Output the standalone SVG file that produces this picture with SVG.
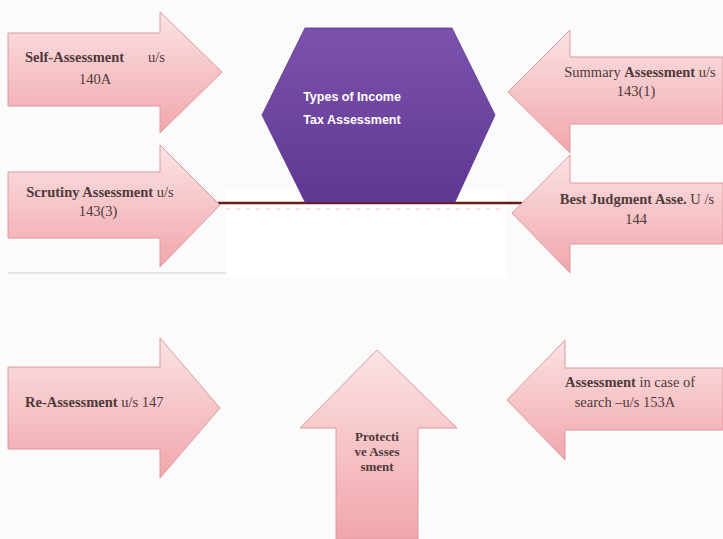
<svg xmlns="http://www.w3.org/2000/svg" width="723" height="539" viewBox="0 0 723 539">
  <defs>
    <linearGradient id="pinkV" x1="0" y1="0" x2="0" y2="1">
      <stop offset="0" stop-color="#fbe3e5"/>
      <stop offset="1" stop-color="#f1a6ab"/>
    </linearGradient>
    <linearGradient id="purple" x1="0" y1="0" x2="0" y2="1">
      <stop offset="0" stop-color="#7c52ae"/>
      <stop offset="1" stop-color="#5f3792"/>
    </linearGradient>
  </defs>
  <style>
    .arrow { fill: url(#pinkV); stroke: #dc9aa0; stroke-width: 1; }
    .lbl { font-family: "Liberation Serif", "Times New Roman", serif; font-size: 14.5px; fill: #4e3a3a; }
    .sm { font-size: 13px; }
    .b { font-weight: bold; }
    .mid { text-anchor: middle; }
    .hex { fill: url(#purple); stroke: #5a3488; stroke-width: 0.8; }
    .hexlbl { font-family: "Liberation Sans", Arial, sans-serif; font-size: 12.5px; font-weight: bold; fill: #ffffff; text-anchor: middle; }
  </style>

  <rect width="723" height="539" fill="#fbfbfb"/>
  <!-- blank panel below the baseline -->
  <rect x="226" y="190" width="280" height="87" fill="#ffffff"/>
  <line x1="8" y1="273" x2="226" y2="273" stroke="#cfcfcf" stroke-width="1"/>

  <g id="connectors">
    <line x1="218" y1="203" x2="522" y2="203" stroke="#6a1c1c" stroke-width="2.5"/>
    <line x1="226" y1="209" x2="505" y2="209" stroke="#f1c4c6" stroke-width="1" stroke-dasharray="4 6"/>
  </g>

  <g id="center">
    <polygon class="hex" points="305,28 452,28 495,115 455,202 305,202 262,115"/>
    <text class="hexlbl" x="352" y="101">Types of Income</text>
    <text class="hexlbl" x="352" y="124">Tax Assessment</text>
  </g>

  <g id="self-assessment">
    <polygon class="arrow" points="8,33 160,33 160,12 222,72 160,133 160,106 8,106"/>
    <text class="lbl b" x="25" y="62">Self-Assessment</text>
    <text class="lbl" x="148" y="62">u/s</text>
    <text class="lbl mid" x="95" y="84">140A</text>
  </g>

  <g id="summary-assessment">
    <polygon class="arrow" points="723,57 570,57 570,30 508,92 570,153 570,124 723,124"/>
    <text class="lbl mid" x="640" y="77">Summary <tspan class="b">Assessment</tspan> u/s</text>
    <text class="lbl mid" x="636" y="96">143(1)</text>
  </g>

  <g id="scrutiny-assessment">
    <polygon class="arrow" points="8,172 160,172 160,145 220,205 160,267 160,238 8,238"/>
    <text class="lbl mid" x="100" y="197"><tspan class="b">Scrutiny Assessment</tspan> u/s</text>
    <text class="lbl mid" x="98" y="216">143(3)</text>
  </g>

  <g id="best-judgment-assessment">
    <polygon class="arrow" points="723,183 570,183 570,155 512,213 570,273 570,244 723,244"/>
    <text class="lbl mid" x="637" y="204"><tspan class="b">Best Judgment Asse.</tspan> U /s</text>
    <text class="lbl mid" x="636" y="224">144</text>
  </g>

  <g id="re-assessment">
    <polygon class="arrow" points="8,367 160,367 160,338 220,408 160,478 160,449 8,449"/>
    <text class="lbl" x="25" y="407"><tspan class="b">Re-Assessment</tspan> u/s 147</text>
  </g>

  <g id="search-assessment">
    <polygon class="arrow" points="723,368 565,368 565,340 507,400 565,460 565,430 723,430"/>
    <text class="lbl mid" x="630" y="387"><tspan class="b">Assessment</tspan> in case of</text>
    <text class="lbl mid" x="625" y="407">search –u/s 153A</text>
  </g>

  <g id="protective-assessment">
    <polygon class="arrow" points="377,350 457,428 418,428 418,539 336,539 336,428 300,428"/>
    <text class="lbl sm b mid" x="377" y="441">Protecti</text>
    <text class="lbl sm b mid" x="377" y="456">ve Asses</text>
    <text class="lbl sm b mid" x="377" y="471">sment</text>
  </g>
</svg>
